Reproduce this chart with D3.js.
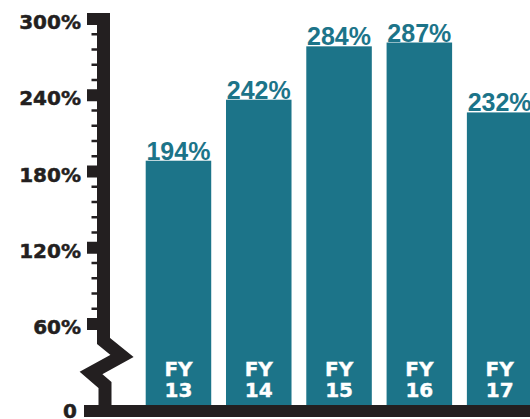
<!DOCTYPE html>
<html>
<head>
<meta charset="utf-8">
<script src="https://cdn.jsdelivr.net/npm/d3@7"></script>
<style>
  body { margin: 0; background: #fff; }
  svg { display: block; }
</style>
</head>
<body>
<div id="chart"></div>
<script>
// data
var years = ["13", "14", "15", "16", "17"];
var values = [194, 242, 284, 287, 232];
var yTicks = [60, 120, 180, 240, 300];

var svgWidth = 530;
var svgHeight = 419;

var teal = "#1c7489";
var ink = "#231f20";

var svg = d3.select("#chart").append("svg")
  .attr("width", svgWidth)
  .attr("height", svgHeight);

// scales (the value axis is broken below 60%)
var y = d3.scaleLinear().domain([60, 300]).range([331, 26]);
var baseTop = 405;

var x = d3.scaleBand()
  .domain(years)
  .range([145.7, 532.4])
  .paddingInner(0.184)
  .paddingOuter(0);

// axis ticks sit a little above the bar scale in the original
var tickY = v => y(v) - 7;
var axisX = 103.5;

// bars
svg.selectAll("rect.bar")
  .data(values)
  .enter()
  .append("rect")
  .attr("class", "bar")
  .attr("x", (d, i) => x(years[i]))
  .attr("y", d => y(d))
  .attr("width", x.bandwidth())
  .attr("height", d => baseTop - y(d))
  .attr("fill", teal);

// value labels
svg.selectAll("text.val")
  .data(values)
  .enter()
  .append("text")
  .attr("class", "val")
  .attr("x", (d, i) => x(years[i]) + x.bandwidth() / 2)
  .attr("y", d => y(d) - 1)
  .attr("text-anchor", "middle")
  .attr("font-family", "Liberation Sans, Arial, sans-serif")
  .attr("font-weight", "bold")
  .attr("font-size", 25)
  .attr("fill", teal)
  .text(d => d + "%");

// category labels inside bars
var catGroup = svg.selectAll("g.cat")
  .data(years)
  .enter()
  .append("g")
  .attr("class", "cat")
  .attr("transform", d => `translate(${x(d) + x.bandwidth() / 2}, 0)`);

var catText = catGroup.append("text")
  .attr("text-anchor", "middle")
  .attr("font-family", "DejaVu Sans, sans-serif")
  .attr("font-weight", "bold")
  .attr("font-size", 20)
  .attr("fill", "#fff")
  .attr("stroke", "#fff")
  .attr("stroke-width", 0.4);

catText.append("tspan")
  .attr("x", 0)
  .attr("y", 376)
  .text("FY");

catText.append("tspan")
  .attr("x", 0)
  .attr("y", 397)
  .text(d => d);

// minor ticks every 12%
var minor = d3.range(60, 301, 12).filter(v => v % 60 !== 0);
svg.selectAll("line.minor")
  .data(minor)
  .enter()
  .append("line")
  .attr("class", "minor")
  .attr("x1", 91.5)
  .attr("x2", axisX)
  .attr("y1", d => tickY(d))
  .attr("y2", d => tickY(d))
  .attr("stroke", ink)
  .attr("stroke-width", 2.5);

// major tick blocks
svg.selectAll("rect.major")
  .data(yTicks)
  .enter()
  .append("rect")
  .attr("class", "major")
  .attr("x", 87)
  .attr("y", d => tickY(d) - 6)
  .attr("width", 16)
  .attr("height", 12)
  .attr("fill", ink);

// tick labels
svg.selectAll("text.tick")
  .data(yTicks)
  .enter()
  .append("text")
  .attr("class", "tick")
  .attr("x", 81)
  .attr("y", d => tickY(d) + 10)
  .attr("text-anchor", "end")
  .attr("font-family", "DejaVu Sans, sans-serif")
  .attr("font-weight", "bold")
  .attr("font-size", 20)
  .attr("fill", ink)
  .attr("stroke", ink)
  .attr("stroke-width", 0.5)
  .text(d => d + "%");

svg.append("text")
  .attr("x", 77)
  .attr("y", 418)
  .attr("text-anchor", "end")
  .attr("font-family", "DejaVu Sans, sans-serif")
  .attr("font-weight", "bold")
  .attr("font-size", 20)
  .attr("fill", ink)
  .attr("stroke", ink)
  .attr("stroke-width", 0.5)
  .text("0");

// axis line with the break zigzag
var axisPts = [
  [axisX, tickY(300) - 6],
  [axisX, 341],
  [122, 356],
  [91, 373],
  [105, 385],
  [105, 406]
];
svg.append("path")
  .attr("d", d3.line()(axisPts))
  .attr("fill", "none")
  .attr("stroke", ink)
  .attr("stroke-width", 13)
  .attr("stroke-linejoin", "miter")
  .attr("stroke-miterlimit", 6);

// baseline
svg.append("rect")
  .attr("x", 84)
  .attr("y", baseTop)
  .attr("width", svgWidth - 84)
  .attr("height", 12)
  .attr("fill", ink);
</script>
</body>
</html>
